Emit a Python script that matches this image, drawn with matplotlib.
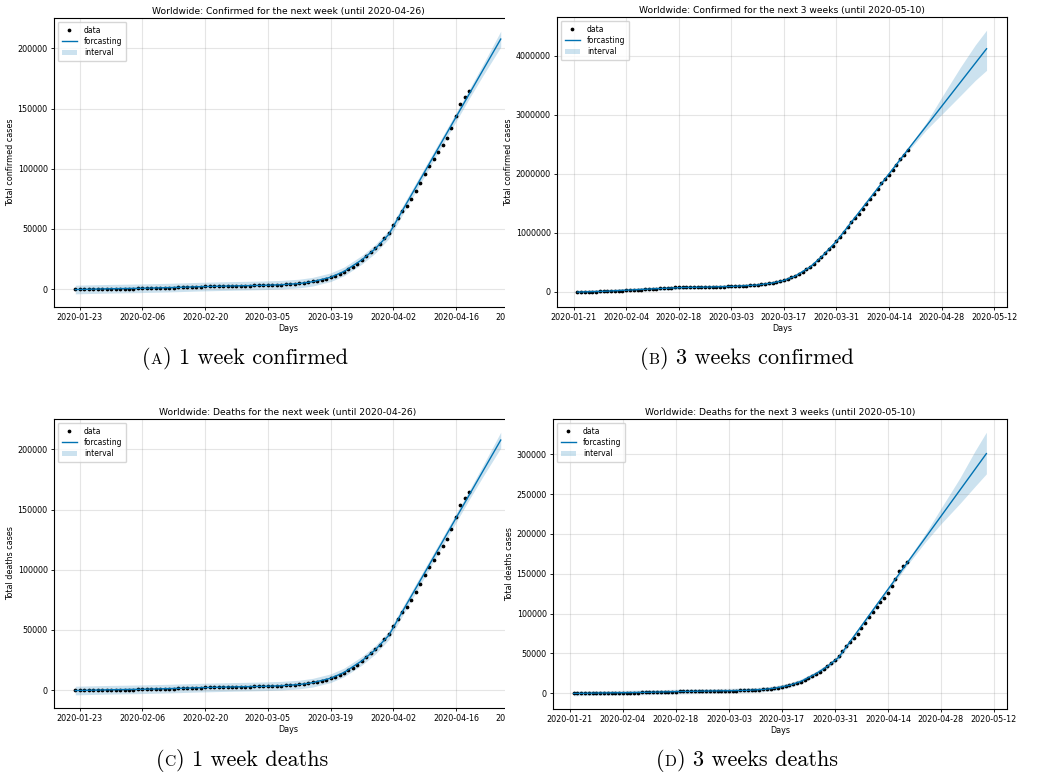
import numpy as np
import pandas as pd
import matplotlib
matplotlib.use('Agg')
import matplotlib.pyplot as plt
import matplotlib.dates as mdates
from matplotlib.patches import Rectangle

# observed worldwide totals, 2020-01-22 .. 2020-04-19
obs_dates = pd.date_range('2020-01-22', '2020-04-19', freq='D')
deaths = [17, 18, 26, 42, 56, 82, 131, 133, 171, 213,
          259, 362, 426, 492, 564, 634, 719, 806, 906, 1013, 1113, 1118, 1371, 1523, 1666,
          1770, 1868, 2007, 2122, 2247, 2251, 2458, 2469, 2629, 2708, 2770, 2814, 2872, 2941,
          2996, 3085, 3160, 3254, 3348, 3460, 3558, 3802, 3988, 4262, 4615, 4720, 5404, 5819,
          6440, 7126, 7905, 8733, 9867, 11299, 12973, 14623, 16497, 18615, 21181, 23970, 27198,
          30652, 33925, 37582, 42107,
          46809, 52983, 58787, 64606, 69374, 74565, 81865, 88338, 95455, 102525, 108503,
          114091, 119482, 125984, 134177, 143800, 153822, 159510, 165044]
confirmed = [555, 654, 941, 1434, 2118, 2927, 5578, 6166, 8234, 9927,
             12038, 16787, 19887, 23898, 27643, 30802, 34395, 37129, 40160, 42769, 44811, 45229,
             60381, 66909, 69052, 71235, 73270, 75152, 75653, 76213, 76841, 78602, 78982, 79546,
             80399, 81376, 82736, 84124, 86013,
             88371, 90309, 92844, 95124, 97886, 101800, 105836, 109835, 113582, 118582, 125865,
             128343, 145193, 156094, 167446, 181527, 197142, 214910, 242708, 272166, 304524,
             336953, 378231, 418041, 467653, 529591, 593291, 660693, 720140, 782389, 857487,
             932605, 1013466, 1095917, 1176060, 1249754, 1321481, 1396476, 1479804, 1565278,
             1657526, 1735650, 1834721, 1904838, 1976191, 2056054, 2152437, 2240190, 2317759,
             2401378]

# forecast (trend knots)
fc1_dates = pd.to_datetime(['2020-01-22', '2020-01-29', '2020-02-05', '2020-02-12', '2020-02-19',
                            '2020-02-26', '2020-03-04', '2020-03-08', '2020-03-12', '2020-03-15',
                            '2020-03-19', '2020-03-22', '2020-03-26', '2020-03-29', '2020-04-01',
                            '2020-04-05', '2020-04-10', '2020-04-15', '2020-04-19', '2020-04-22',
                            '2020-04-26'])
fc1_yhat = [-300, 300, 700, 1300, 2100, 2700, 3200, 3700, 4700, 6200, 9900, 14700, 24400, 33600,
            45500, 71500, 103900, 136400, 162400, 181900, 207800]
fc1_low = [-3900, -3300, -2900, -2300, -1500, -900, -400, 100, 1100, 2600, 6300, 11100, 20800,
           30000, 41900, 67900, 100300, 132800, 158600, 177300, 201200]
fc1_up = [3300, 3900, 4300, 4900, 5700, 6300, 6800, 7300, 8300, 9800, 13500, 18300, 28000, 37200,
          49100, 75100, 107500, 140000, 166200, 186500, 214400]

fcc_dates = pd.to_datetime(['2020-01-22', '2020-01-29', '2020-02-05', '2020-02-12', '2020-02-19',
                            '2020-02-26', '2020-03-04', '2020-03-10', '2020-03-14', '2020-03-17',
                            '2020-03-20', '2020-03-24', '2020-03-27', '2020-03-31', '2020-04-05',
                            '2020-04-10', '2020-04-14', '2020-04-19', '2020-04-24', '2020-04-28',
                            '2020-05-03', '2020-05-07', '2020-05-10'])
fcc_yhat = [-5000, 8000, 30000, 52000, 72000, 80000, 93000, 115000, 150000, 192000, 265000,
            420000, 590000, 855000, 1262500, 1670000, 1996000, 2403500, 2811000, 3137000,
            3544500, 3870500, 4115000]
fcc_low = [-35000, -22000, 0, 22000, 42000, 50000, 63000, 85000, 120000, 162000, 235000, 390000,
           560000, 825000, 1232500, 1640000, 1966000, 2373500, 2745000, 3000000, 3320000,
           3580000, 3750000]
fcc_up = [25000, 38000, 60000, 82000, 102000, 110000, 123000, 145000, 180000, 222000, 295000,
          450000, 620000, 885000, 1292500, 1700000, 2026000, 2433500, 2870000, 3290000, 3800000,
          4180000, 4430000]

fcd_dates = pd.to_datetime(['2020-01-22', '2020-01-29', '2020-02-05', '2020-02-12', '2020-02-19',
                            '2020-02-26', '2020-03-04', '2020-03-08', '2020-03-12', '2020-03-15',
                            '2020-03-19', '2020-03-22', '2020-03-26', '2020-03-29', '2020-04-01',
                            '2020-04-05', '2020-04-10', '2020-04-15', '2020-04-19', '2020-04-24',
                            '2020-04-28', '2020-05-03', '2020-05-07', '2020-05-10'])
fcd_yhat = [-300, 300, 700, 1300, 2100, 2700, 3200, 3700, 4700, 6200, 9900, 14700, 24400, 33600,
            45000, 71200, 104000, 136800, 163000, 195800, 222000, 254800, 281000, 300700]
fcd_low = [-3300, -2700, -2300, -1700, -900, -300, 200, 700, 1700, 3200, 6900, 11700, 21400,
           30600, 42000, 68200, 101000, 133800, 160000, 190500, 212500, 238000, 259500, 275300]
fcd_up = [2700, 3300, 3700, 4300, 5100, 5700, 6200, 6700, 7700, 9200, 12900, 17700, 27400, 36600,
          48000, 74200, 107000, 139800, 166000, 201000, 232000, 270000, 304000, 327600]

ticks_1w = pd.date_range('2020-01-23', periods=8, freq='14D')
ticks_3w = pd.date_range('2020-01-21', periods=9, freq='14D')

W, H = 1050, 773
fig = plt.figure(figsize=(W / 100, H / 100), dpi=100)


def px_rect(left, top, right, bottom):
    return [left / W, 1 - bottom / H, (right - left) / W, (bottom - top) / H]


def panel(rect, y, fd, fy, flo, fup, ticks, title, ylabel, z):
    ax = fig.add_axes(px_rect(*rect), zorder=z)
    ax.plot(obs_dates, y, 'k.', ms=3.4, label='data')
    ax.plot(fd, fy, ls='-', c='#0072B2', lw=1.0, label='forcasting')
    ax.fill_between(fd, flo, fup, color='#0072B2', alpha=0.2, lw=0, label='interval')
    ax.grid(True, which='major', c='gray', ls='-', lw=0.8, alpha=0.2)
    ax.set_xticks(ticks)
    ax.xaxis.set_major_formatter(mdates.DateFormatter('%Y-%m-%d'))
    ax.ticklabel_format(axis='y', style='plain', useOffset=False)
    ax.tick_params(labelsize=5.8, length=2.5, width=0.6, pad=2)
    ax.set_title(title, fontsize=6.6, pad=3)
    ax.set_xlabel('Days', fontsize=5.8, labelpad=1.5)
    ax.set_ylabel(ylabel, fontsize=5.8, labelpad=1.5)
    ax.legend(loc='upper left', fontsize=5.5, handlelength=2.0, borderpad=0.5,
              labelspacing=0.3, handletextpad=0.9)
    return ax


panel((54, 18, 522, 307), deaths, fc1_dates, fc1_yhat, fc1_low, fc1_up, ticks_1w,
      'Worldwide: Confirmed for the next week (until 2020-04-26)', 'Total confirmed cases', 0)
panel((557, 17, 1007, 307), confirmed, fcc_dates, fcc_yhat, fcc_low, fcc_up, ticks_3w,
      'Worldwide: Confirmed for the next 3 weeks (until 2020-05-10)', 'Total confirmed cases', 2)
panel((54, 419, 522, 708), deaths, fc1_dates, fc1_yhat, fc1_low, fc1_up, ticks_1w,
      'Worldwide: Deaths for the next week (until 2020-04-26)', 'Total deaths cases', 0)
panel((553, 419, 1007, 709), deaths, fcd_dates, fcd_yhat, fcd_low, fcd_up, ticks_3w,
      'Worldwide: Deaths for the next 3 weeks (until 2020-05-10)', 'Total deaths cases', 2)

# left panels are cropped on the right in the source figure
fig.patches.append(Rectangle((505 / W, 0), 60 / W, 1, transform=fig.transFigure,
                             facecolor='white', edgecolor='none', zorder=1))

# captions with small-caps letters, centred under each panel
renderer = fig.canvas.get_renderer()


def caption(cx_px, y_px, letter, rest):
    parts = [('(', 16), (letter, 11.2), (') ' + rest, 16)]
    texts = [fig.text(0, 1 - y_px / H, s, fontsize=size, family='cmr10', va='baseline')
             for s, size in parts]
    widths = [t.get_window_extent(renderer).width for t in texts]
    x = cx_px - sum(widths) / 2
    for t, w in zip(texts, widths):
        t.set_x(x / W)
        x += w


caption(245, 364, 'A', '1 week confirmed')
caption(747, 364, 'B', '3 weeks confirmed')
caption(242, 766, 'C', '1 week deaths')
caption(747, 766, 'D', '3 weeks deaths')

fig.savefig('out.png', dpi=100, facecolor='white')
